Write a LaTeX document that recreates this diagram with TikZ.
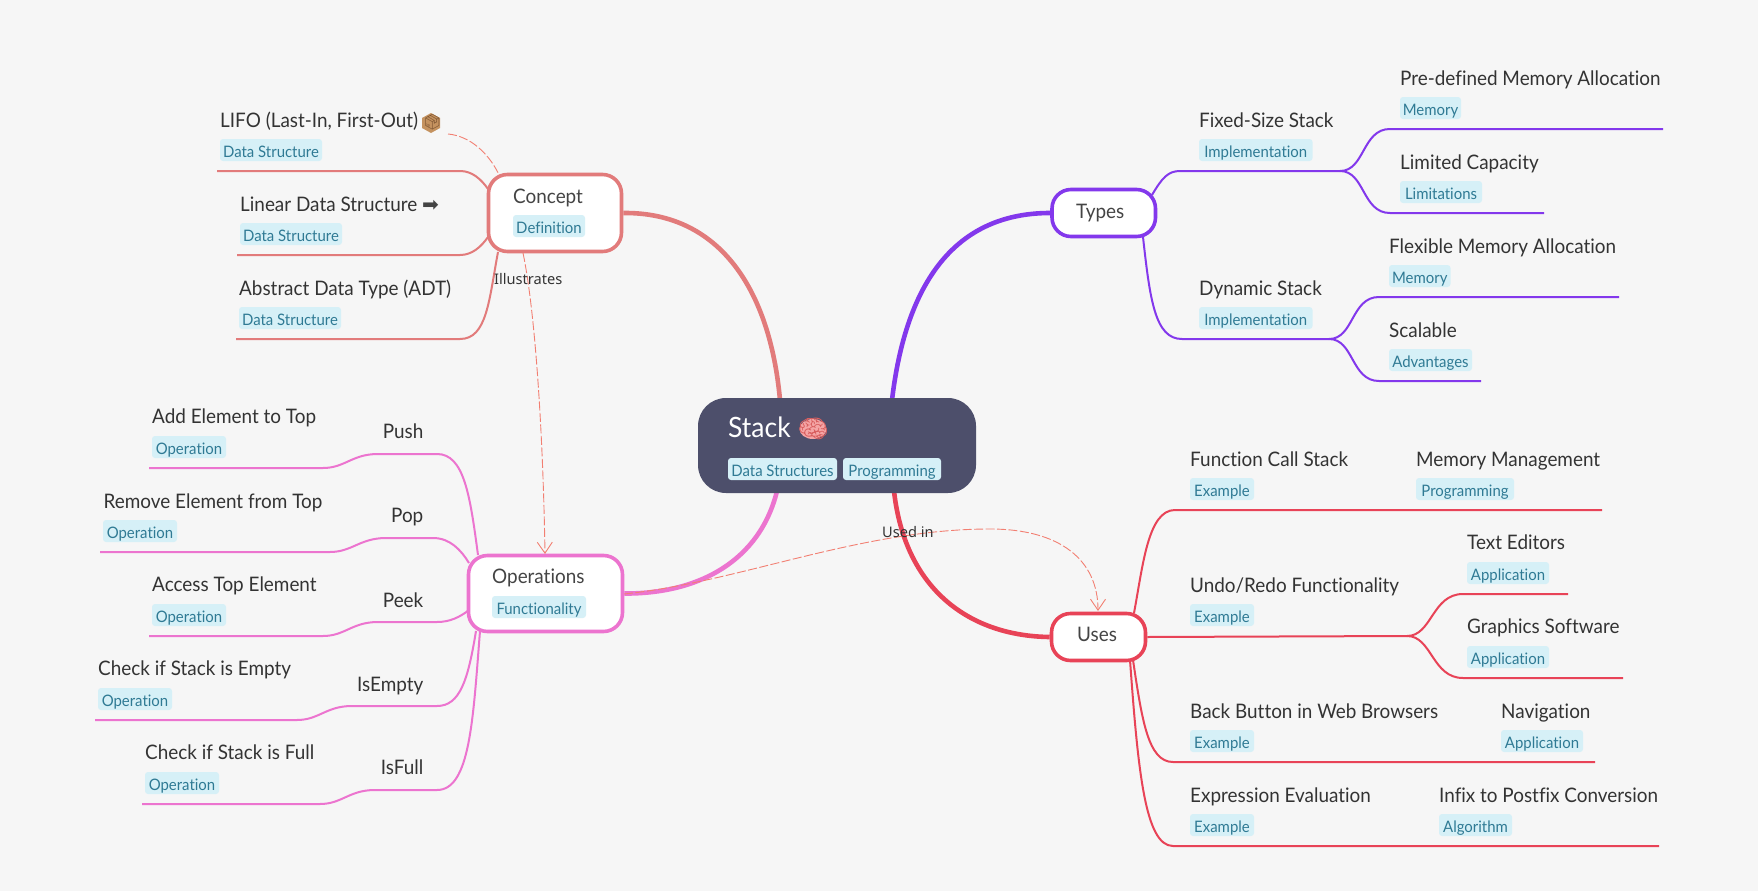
\documentclass[tikz,border=0pt]{standalone}
\usepackage{fontspec}
\setmainfont[FakeStretch=0.945,Ligatures=NoCommon]{Lato}
\newfontfamily\emojifont{Noto Emoji}
\newfontfamily\arrowfont{DejaVu Sans}
\newfontfamily\labelfont{Noto Sans}
\usetikzlibrary{arrows.meta,backgrounds}
\definecolor{bgc}{HTML}{F6F6F6}
\definecolor{rootc}{HTML}{4D4F6B}
\definecolor{tagf}{HTML}{D6F0F7}
\definecolor{tagt}{HTML}{2F7A94}
\definecolor{leaft}{HTML}{333333}
\definecolor{nodet}{HTML}{444444}
\definecolor{cc}{HTML}{E27B7B}
\definecolor{tc}{HTML}{8338EC}
\definecolor{oc}{HTML}{EC74CF}
\definecolor{uc}{HTML}{E84357}
\definecolor{dc}{HTML}{F27F72}
\definecolor{brainc}{HTML}{F4A5A5}
\definecolor{boxc}{HTML}{C4925F}
\tikzset{
  x=1pt,y=-1pt,
  leaf/.style={anchor=base west,inner sep=0pt,yshift=-0.5pt,font=\fontsize{20}{24}\selectfont,text=leaft},
  leafr/.style={leaf,anchor=base east},
  tagbox/.style={draw=none,fill=tagf,rounded corners=3pt,inner sep=0pt,minimum height=22pt,text height=15pt,text depth=1pt,font=\fontsize{15.8}{18}\selectfont,text=tagt},
  branch/.style={draw=#1,line width=3.6pt,fill=white,rounded corners=19pt,inner sep=0pt},
  btext/.style={anchor=base west,inner sep=0pt,yshift=-0.5pt,font=\fontsize{20}{24}\selectfont,text=nodet},
  thick link/.style={draw=#1,line width=4.6pt},
  thin link/.style={draw=#1,line width=2pt},
  rel/.style={draw=dc,line width=0.9pt,dash pattern=on 9pt off 2.5pt},
  relhead/.style={-{Straight Barb[length=11pt,width=15pt,line width=0.9pt,color=dc]}},
  rellabel/.style={inner sep=0pt,anchor=base west,font=\labelfont\fontsize{14.6}{17}\selectfont,text=leaft},
}
\newcommand{\tagn}[5]{%
  \pgfmathsetmacro\tgw{#3-#2}\pgfmathsetmacro\tgx{(#2+#3)/2}\pgfmathsetmacro\tgy{#4+11}%
  \node[tagbox,minimum width=\tgw pt] (#1) at (\tgx,\tgy) {#5};}
\newcommand{\boxn}[7]{%
  \pgfmathsetmacro\tgw{#3-#2}\pgfmathsetmacro\tgh{#5-#4}\pgfmathsetmacro\tgx{(#2+#3)/2}\pgfmathsetmacro\tgy{(#4+#5)/2}%
  \node[#6,minimum width=\tgw pt,minimum height=\tgh pt] (#1) at (\tgx,\tgy) {#7};}
\begin{document}
\begin{tikzpicture}
\useasboundingbox (0,0) rectangle (1758,891);
% main nodes
\boxn{root}{698}{976}{398}{493}{fill=rootc,rounded corners=28pt,inner sep=0pt}{}
\boxn{concept}{488.5}{621.5}{174.5}{251.5}{branch=cc}{}
\boxn{types}{1052}{1155.5}{189.5}{236.5}{branch=tc}{}
\boxn{ops}{468.5}{622.5}{555.5}{631.5}{branch=oc}{}
\boxn{uses}{1051.5}{1145.5}{613.5}{660.5}{branch=uc}{}
\fill[brainc] (813,429) ellipse (13.5 and 10);
\fill[boxc] (431,113) -- (440,118) -- (440,128) -- (431,133) -- (422,128) -- (422,118) -- cycle;
\node[anchor=base west,inner sep=0pt,font=\fontsize{28}{32}\selectfont,text=white] (rootlabel) at (728,437) {Stack {\emojifont\color[HTML]{D85F5F}\fontsize{25}{30}\selectfont 🧠}};
\tagn{rt1}{728}{837}{458}{Data Structures}
\tagn{rt2}{843}{941}{458}{Programming}
\node[btext] (conceptlabel) at (513,203) {Concept};
\tagn{ct}{513}{585}{215}{Definition}
\node[btext] (typeslabel) at (1076,218) {Types};
\node[btext] (opslabel) at (492,583) {Operations};
\tagn{ot}{492}{586}{596}{Functionality}
\node[btext] (useslabel) at (1077,641) {Uses};
% concept leaves
\node[leaf] (lifo) at (220,127) {LIFO (Last-In, First-Out) {\emojifont\color[HTML]{7A5230}\fontsize{15}{18}\selectfont 📦}};
\tagn{lifot}{220}{322}{139}{Data Structure}
\node[leaf] (linear) at (240,211) {Linear Data Structure {\arrowfont\color[HTML]{444444}➡}};
\tagn{lineart}{240}{342}{223}{Data Structure}
\node[leaf] (adt) at (239,295) {Abstract Data Type (ADT)};
\tagn{adtt}{239}{341}{307}{Data Structure}
% types
\node[leaf] (fixed) at (1199,127) {Fixed-Size Stack};
\tagn{fixedt}{1199}{1312.5}{139}{Implementation}
\node[leaf] (dyn) at (1199,295) {Dynamic Stack};
\tagn{dynt}{1199}{1312.5}{307}{Implementation}
\node[leaf] (pre) at (1400,85) {Pre-defined Memory Allocation};
\tagn{pret}{1400}{1461}{97}{Memory}
\node[leaf] (lim) at (1400,169) {Limited Capacity};
\tagn{limt}{1400}{1482}{181}{Limitations}
\node[leaf] (flex) at (1389,253) {Flexible Memory Allocation};
\tagn{flext}{1389}{1450.5}{265}{Memory}
\node[leaf] (scal) at (1389,337) {Scalable};
\tagn{scalt}{1389}{1472}{349}{Advantages}
% operations
\node[leafr] (push) at (423.5,438) {Push};
\node[leaf] (add) at (152,423) {Add Element to Top};
\tagn{addt}{152}{226}{436}{Operation}
\node[leafr] (pop) at (423.5,522) {Pop};
\node[leaf] (rem) at (103.5,508) {Remove Element from Top};
\tagn{remt}{103}{177}{520}{Operation}
\node[leafr] (peek) at (423.5,607) {Peek};
\node[leaf] (acc) at (152,591) {Access Top Element};
\tagn{acct}{152}{226}{604}{Operation}
\node[leafr] (isempty) at (423.5,691) {IsEmpty};
\node[leaf] (chke) at (98,675) {Check if Stack is Empty};
\tagn{chket}{98}{172}{688}{Operation}
\node[leafr] (isfull) at (423.5,774) {IsFull};
\node[leaf] (chkf) at (145,759) {Check if Stack is Full};
\tagn{chkft}{145}{219}{772}{Operation}
% uses
\node[leaf] (fcs) at (1190,466) {Function Call Stack};
\tagn{fcst}{1190}{1254}{478}{Example}
\node[leaf] (mm) at (1416,466) {Memory Management};
\tagn{mmt}{1416}{1514}{478}{Programming}
\node[leaf] (undo) at (1190,592) {Undo/Redo Functionality};
\tagn{undot}{1190}{1254}{604}{Example}
\node[leaf] (te) at (1467,549) {Text Editors};
\tagn{tet}{1467}{1549}{562}{Application}
\node[leaf] (gs) at (1467,633) {Graphics Software};
\tagn{gst}{1467}{1549}{646}{Application}
\node[leaf] (back) at (1190,718) {Back Button in Web Browsers};
\tagn{backt}{1190}{1254}{730}{Example}
\node[leaf] (nav) at (1501,718) {Navigation};
\tagn{navt}{1501}{1583}{730}{Application}
\node[leaf] (expr) at (1190,802) {Expression Evaluation};
\tagn{exprt}{1190}{1254}{814}{Example}
\node[leaf] (infix) at (1439,802) {Infix to Postfix Conversion};
\tagn{infixt}{1439}{1512}{814}{Algorithm}
% connection points
\coordinate (rootN1) at (780,400);
\coordinate (rootN2) at (892,400);
\coordinate (rootS1) at (777,491);
\coordinate (rootS2) at (894,491);
\coordinate (cA) at (488,189); \coordinate (cB) at (488,237); \coordinate (cC) at (498,252);
\coordinate (tA) at (1152,195); \coordinate (tB) at (1143,237);
\coordinate (oA) at (478,555); \coordinate (oB) at (469,563); \coordinate (oC) at (469,610);
\coordinate (oD) at (476,631); \coordinate (oE) at (480,631);
\coordinate (uA) at (1134,613); \coordinate (uB) at (1133,660); \coordinate (uC) at (1130,660);
\coordinate (e1) at (217,171); \coordinate (e2) at (237,255); \coordinate (e3) at (236,339);
\coordinate (e4) at (1663,129); \coordinate (e5) at (1544,213); \coordinate (e6) at (1619,297); \coordinate (e7) at (1481,381);
\coordinate (e8) at (149,468); \coordinate (e9) at (100,552); \coordinate (e10) at (149,636); \coordinate (e11) at (95,720); \coordinate (e12) at (142,804);
\coordinate (e13) at (1602,510); \coordinate (e14) at (1568,594); \coordinate (e15) at (1623,678); \coordinate (e16) at (1595,762); \coordinate (e17) at (1659,846);
\coordinate (j1) at (1340,171); \coordinate (j2) at (1329,339); \coordinate (j3) at (1407,636);
\begin{scope}[on background layer]
\fill[bgc] (0,0) rectangle (1758,891);
% main branches
\draw[thick link=cc] (concept.east) .. controls (720,212) and (770,290) .. (rootN1);
\draw[thick link=tc] (types.west) .. controls (950,213) and (905,290) .. (rootN2);
\draw[thick link=oc] (ops.east) .. controls (700,594) and (760,560) .. (rootS1);
\draw[thick link=uc] (rootS2) .. controls (905,590) and (970,636) .. (uses.west);
% concept
\draw[thin link=cc] (e1) -- (460,171) .. controls (472,171) and (481,179) .. (cA);
\draw[thin link=cc] (e2) -- (460,255) .. controls (472,255) and (481,247) .. (cB);
\draw[thin link=cc] (e3) -- (460,339) .. controls (487,339) and (489,300) .. (cC);
% types
\draw[thin link=tc] (tA) .. controls (1162,178) and (1168,171) .. (1180,171) -- (j1);
\draw[thin link=tc] (j1) .. controls (1365,171) and (1362,129) .. (1390,129) -- (e4);
\draw[thin link=tc] (j1) .. controls (1365,171) and (1362,213) .. (1390,213) -- (e5);
\draw[thin link=tc] (tB) .. controls (1150,300) and (1155,339) .. (1182,339) -- (j2);
\draw[thin link=tc] (j2) .. controls (1354,339) and (1351,297) .. (1379,297) -- (e6);
\draw[thin link=tc] (j2) .. controls (1354,339) and (1351,381) .. (1379,381) -- (e7);
% operations
\draw[thin link=oc] (e8) -- (323,468) .. controls (345,468) and (352,454) .. (378,454) -- (437,454) .. controls (464,454) and (470,495) .. (oA);
\draw[thin link=oc] (e9) -- (330,552) .. controls (352,552) and (360,538) .. (386,538) -- (433,538) .. controls (450,538) and (461,550) .. (oB);
\draw[thin link=oc] (e10) -- (323,636) .. controls (345,636) and (352,622) .. (378,622) -- (437,622) .. controls (450,622) and (460,617) .. (oC);
\draw[thin link=oc] (e11) -- (297,720) .. controls (319,720) and (326,706) .. (352,706) -- (437,706) .. controls (460,706) and (468,680) .. (oD);
\draw[thin link=oc] (e12) -- (320,804) .. controls (342,804) and (349,790) .. (375,790) -- (437,790) .. controls (470,790) and (473,720) .. (oE);
% uses
\draw[thin link=uc] (uA) .. controls (1143,565) and (1148,510) .. (1175,510) -- (e13);
\draw[thin link=uc] (uses.east) -- (j3);
\draw[thin link=uc] (j3) .. controls (1432,636) and (1432,594) .. (1463,594) -- (e14);
\draw[thin link=uc] (j3) .. controls (1432,636) and (1432,678) .. (1463,678) -- (e15);
\draw[thin link=uc] (uB) .. controls (1142,720) and (1148,762) .. (1173,762) -- (e16);
\draw[thin link=uc] (uC) .. controls (1138,770) and (1145,846) .. (1173,846) -- (e17);
\end{scope}
% relations
\coordinate (r1) at (448,134);
\draw[rel] (r1) .. controls (470,136) and (488,153) .. (cC |- concept.north);
\coordinate (r2) at (523,253);
\draw[rel,relhead] (r2) .. controls (535,310) and (543,430) .. (545,554);
\coordinate (r3) at (624,594);
\draw[rel,relhead] (r3) .. controls (740,582) and (860,529) .. (990,529) .. controls (1060,529) and (1098,560) .. (1098,611);
\node[rellabel] (illus) at (494,284) {Illustrates};
\node[rellabel] (usedin) at (882,537) {Used in};
\end{tikzpicture}
\end{document}
